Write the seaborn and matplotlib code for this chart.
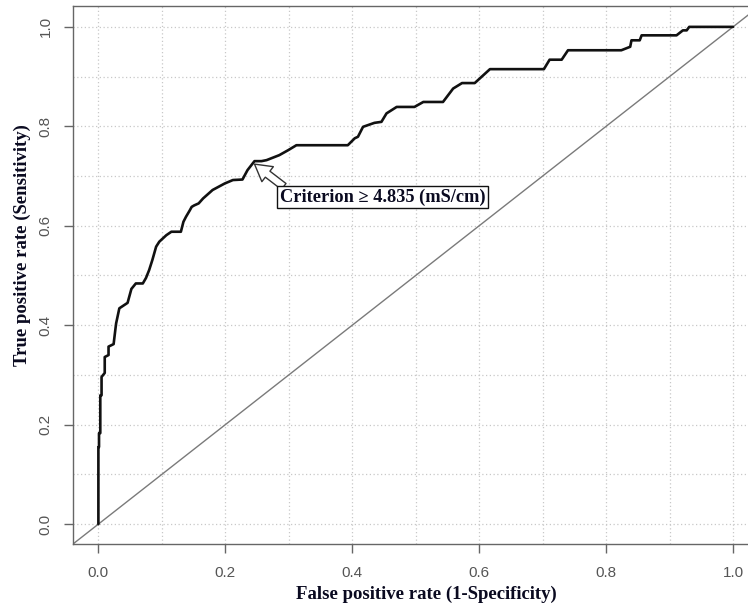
import numpy as np
import pandas as pd
import matplotlib
matplotlib.use("Agg")
import matplotlib.pyplot as plt
import seaborn as sns

# ROC curve points
fpr = [0.0, 0.0, 0.001, 0.001, 0.003, 0.003, 0.005, 0.005, 0.010, 0.010, 0.016, 0.016,
       0.024, 0.027, 0.028, 0.033, 0.046, 0.052, 0.059, 0.070, 0.075, 0.080, 0.085,
       0.091, 0.096, 0.107, 0.115, 0.130, 0.134, 0.138, 0.144, 0.147, 0.151, 0.158,
       0.165, 0.180, 0.199, 0.212, 0.227, 0.235, 0.246, 0.257, 0.265, 0.275, 0.285,
       0.299, 0.312, 0.393, 0.404, 0.409, 0.417, 0.435, 0.446, 0.454, 0.470, 0.498,
       0.512, 0.543, 0.559, 0.573, 0.593, 0.617, 0.702, 0.711, 0.730, 0.740, 0.824,
       0.838, 0.840, 0.853, 0.856, 0.911, 0.921, 0.927, 0.931, 1.0]
tpr = [0.0, 0.155, 0.155, 0.183, 0.183, 0.259, 0.259, 0.296, 0.304, 0.336, 0.340, 0.357,
       0.362, 0.394, 0.404, 0.434, 0.445, 0.473, 0.484, 0.484, 0.495, 0.511, 0.531,
       0.558, 0.568, 0.581, 0.588, 0.588, 0.608, 0.618, 0.631, 0.638, 0.641, 0.645,
       0.655, 0.672, 0.685, 0.692, 0.693, 0.712, 0.730, 0.730, 0.732, 0.737, 0.742,
       0.752, 0.762, 0.762, 0.776, 0.779, 0.799, 0.807, 0.809, 0.826, 0.839, 0.839,
       0.849, 0.849, 0.876, 0.887, 0.887, 0.915, 0.915, 0.934, 0.934, 0.953, 0.953,
       0.960, 0.973, 0.973, 0.983, 0.983, 0.993, 0.993, 1.0, 1.0]

major_ticks = [0.0, 0.2, 0.4, 0.6, 0.8, 1.0]
tick_labels = ["0.0", "0.2", "0.4", "0.6", "0.8", "1.0"]
grid_ticks = [0.0, 0.1, 0.2, 0.3, 0.4, 0.5, 0.6, 0.7, 0.8, 0.9, 1.0]

criterion_text = "Criterion \u2265 4.835 (mS/cm)"
criterion_point = (0.246, 0.724)
criterion_tail = (0.292, 0.679)
criterion_box = (0.448, 0.658)

x_label = "False positive rate (1-Specificity)"
y_label = "True positive rate (Sensitivity)"

sns.set_style("white")
plt.rcParams["font.family"] = ["Liberation Sans", "DejaVu Sans"]

df = pd.DataFrame({"fpr": fpr, "tpr": tpr})

W, H = 748, 606
fig = plt.figure(figsize=(W / 100, H / 100), dpi=100)
left_px, right_px, top_px, bottom_px = 73, 758.4, 6, 544
ax = fig.add_axes([left_px / W, 1 - bottom_px / H, (right_px - left_px) / W, (bottom_px - top_px) / H])

ax.set_xlim(-0.04, 1.04)
ax.set_ylim(-0.04, 1.042)

ax.set_xticks(major_ticks)
ax.set_xticklabels(tick_labels)
ax.set_yticks(major_ticks)
ax.set_yticklabels(tick_labels, rotation=90, va="center")
ax.set_xticks(grid_ticks, minor=True)
ax.set_yticks(grid_ticks, minor=True)
ax.grid(which="both", linestyle=(0, (1, 2)), color="#c8c8c8", linewidth=0.9)
ax.set_axisbelow(True)

ax.tick_params(which="major", direction="out", length=6.5, width=1, color="#666666",
               labelcolor="#555555", labelsize=11, bottom=True, left=True)
ax.tick_params(axis="x", which="major", pad=9)
ax.tick_params(axis="y", which="major", pad=8)
ax.tick_params(which="minor", length=0)

for s in ax.spines.values():
    s.set_color("#666666")
    s.set_linewidth(1.0)

ax.axline((0, 0), slope=1, color="#7a7a7a", lw=1.0, zorder=2)

sns.lineplot(data=df, x="fpr", y="tpr", sort=False, estimator=None, color="#111111",
             lw=1.9, ax=ax, zorder=3)

ax.annotate("", xy=criterion_point, xytext=criterion_tail,
            arrowprops=dict(arrowstyle="simple,head_length=0.7,head_width=0.8,tail_width=0.32",
                            mutation_scale=17, fc="white", ec="#333333", lw=1.0,
                            shrinkA=0, shrinkB=0), zorder=4)
ax.text(criterion_box[0], criterion_box[1], criterion_text, ha="center", va="center",
        family=["Liberation Serif", "DejaVu Serif"], fontweight="bold", fontsize=13.2,
        color="#0a0a20", zorder=5,
        bbox=dict(boxstyle="square,pad=0.15", fc="white", ec="#111111", lw=1.0))

ax.set_xlabel(x_label, family=["Liberation Serif", "DejaVu Serif"], fontweight="bold",
              fontsize=13.5, color="#0a0a20", va="center")
ax.set_ylabel(y_label, family=["Liberation Serif", "DejaVu Serif"], fontweight="bold",
              fontsize=13.5, color="#0a0a20", va="center")
axw = right_px - left_px
axh = bottom_px - top_px
ax.xaxis.set_label_coords((426 - left_px) / axw, (bottom_px - 594) / axh)
ax.yaxis.set_label_coords((22 - left_px) / axw, (bottom_px - 245) / axh)

fig.savefig("out.png", dpi=100)
